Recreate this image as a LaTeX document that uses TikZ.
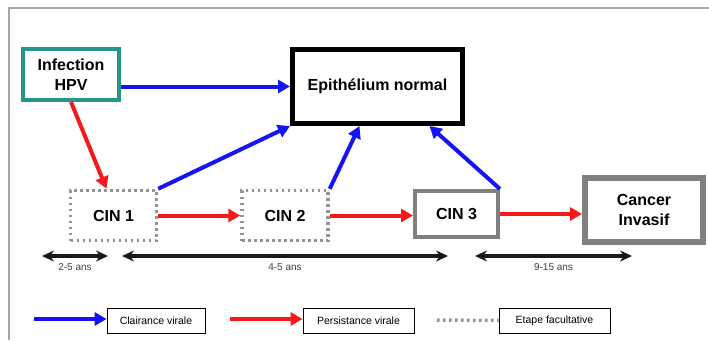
\documentclass[tikz,border=0pt]{standalone}
\usepackage{fontspec}
\setmainfont{Liberation Sans}
\usetikzlibrary{arrows.meta,calc}
\definecolor{hpvteal}{RGB}{38,150,138}
\definecolor{clairblue}{RGB}{20,20,245}
\definecolor{persred}{RGB}{245,25,25}
\begin{document}
\begin{tikzpicture}[x=1pt,y=-1pt,
    stage/.style={draw,inner sep=0pt,align=center,font=\fontsize{16}{20}\selectfont\bfseries},
    graydots/.style={draw=gray!85,line width=3.5pt,dash pattern=on 2.5pt off 3.5pt},
    optstage/.style={stage,graydots},
    legendbox/.style={draw,line width=0.8pt,inner sep=0pt,minimum width=111pt,minimum height=25pt,font=\fontsize{10.5}{12}\selectfont},
    clair/.style={draw=clairblue,line width=4pt,-{Triangle[length=12pt,width=13pt]}},
    pers/.style={draw=persred,line width=4pt,-{Triangle[length=12pt,width=13pt]}},
    duree/.style={draw=black!90,line width=3.6pt,arrows={Stealth[length=12pt,width=11pt]-Stealth[length=12pt,width=11pt]}},
    dureelabel/.style={font=\fontsize{10}{12}\selectfont,text=black!75}]
      \useasboundingbox (0,0) rectangle (709,340);
      \draw[gray!70,line width=1.2pt] (9,340) -- (9,8) -- (709,8);

      % stages
      \node[stage,draw=hpvteal,line width=4pt,minimum width=96pt,minimum height=51pt] (hpv) at (71,74.5) {Infection\\HPV};
      \node[stage,line width=5pt,minimum width=170pt,minimum height=74pt] (epi) at (377.5,86.5) {Epithélium normal};
      \node[optstage,minimum width=86pt,minimum height=50pt] (cin1) at (113.5,215.5) {CIN 1};
      \node[optstage,minimum width=86pt,minimum height=50pt] (cin2) at (285,215.5) {CIN 2};
      \node[stage,draw=gray,line width=4pt,minimum width=83pt,minimum height=46pt] (cin3) at (456.5,214) {CIN 3};
      \node[stage,draw=gray,line width=6pt,minimum width=118pt,minimum height=64pt] (cancer) at (644,210) {Cancer\\Invasif};

      % clairance
      \draw[clair] (hpv.east |- epi.west) -- (epi.west);
      \draw[clair] (cin1.north east) -- (epi.south west);
      \draw[clair] (cin2.north east) -- ([xshift=-18pt]epi.south);
      \draw[clair] (cin3.north east) -- ([xshift=52pt]epi.south);

      % persistance
      \draw[pers] (hpv.south) -- ([xshift=-7pt]cin1.north);
      \draw[pers] (cin1.east) -- (cin2.west);
      \draw[pers] (cin2.east) -- (cin3.west |- cin2.east);
      \draw[pers] (cin3.east) -- (cancer.west |- cin3.east);

      % durees
      \foreach \a/\b/\n/\t in {42/108/d1/2-5 ans, 122/448/d2/4-5 ans, 475/632/d3/9-15 ans} {
        \coordinate (\n a) at (\a,256);
        \coordinate (\n b) at (\b,256);
        \draw[duree] (\n a) -- (\n b);
        \node[dureelabel] (\n l) at ($(\n a)!0.5!(\n b)+(0,11)$) {\t};
      }

      % legende
      \node[legendbox,minimum width=98pt] (lclair) at (156,320.5) {Clairance virale};
      \node[legendbox] (lpers) at (358.5,320.5) {Persistance virale};
      \node[legendbox] (letape) at (554.5,320.5) {Etape facultative};
      \coordinate (lclairs) at (34,319);
      \coordinate (lperss) at (230,319);
      \coordinate (letapes) at (437,320);
      \draw[clair] (lclairs) -- (lclair.west |- lclairs);
      \draw[pers] (lperss) -- (lpers.west |- lperss);
      \draw[graydots] (letapes) -- (letape.west);
    \end{tikzpicture}
\end{document}
